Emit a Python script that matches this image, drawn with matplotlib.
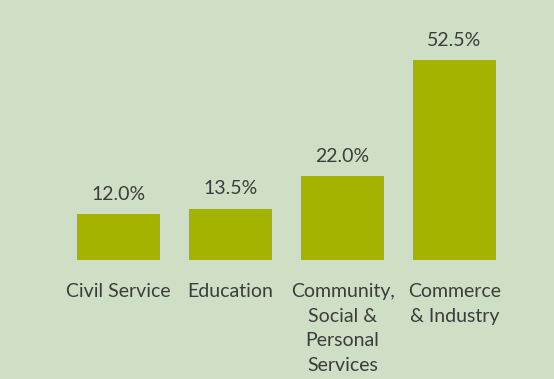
import matplotlib.pyplot as plt

categories = ["Civil Service", "Education", "Community,\nSocial &\nPersonal\nServices", "Commerce\n& Industry"]
values = [12.0, 13.5, 22.0, 52.5]

bg = '#cfdfc5'
bar_color = '#a3b300'
text_color = '#3c3c3c'

plt.rcParams['font.family'] = ['Lato', 'DejaVu Sans']

fig = plt.figure(figsize=(5.54, 3.79), dpi=100, facecolor=bg)
ax = fig.add_axes([0.1128, 0.314, 0.8087, 0.603])
ax.set_facecolor(bg)

x = range(len(values))
bars = ax.bar(x, values, width=0.74, color=bar_color)

for xi, v in zip(x, values):
    ax.annotate(f'{v:.1f}%', (xi, v), xytext=(0, 8), textcoords='offset points',
                ha='center', va='bottom', fontsize=14, color=text_color)

ax.set_xlim(-0.5, 3.5)
ax.set_ylim(0, 60)
ax.set_xticks(list(x))
ax.set_xticklabels(categories, fontsize=14, color=text_color, linespacing=1.55, va='top')
ax.tick_params(axis='x', length=0, pad=16.5)
ax.set_yticks([])
for s in ax.spines.values():
    s.set_visible(False)

plt.savefig('out.png', dpi=100, facecolor=bg)
